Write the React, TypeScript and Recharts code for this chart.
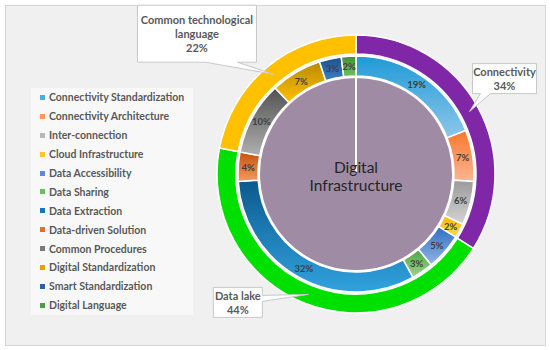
import { PieChart, Pie, Cell, Legend } from "recharts";

// Outer ring: the three groups
const groups = ["Connectivity", "Data lake", "Common technological language"];
const groupValues = [34, 44, 22];
const groupColors = ["#7f27a6", "#00e000", "#ffc000"];

// Inner ring: the twelve components
const items = [
  "Connectivity Standardization",
  "Connectivity Architecture",
  "Inter-connection",
  "Cloud Infrastructure",
  "Data Accessibility",
  "Data Sharing",
  "Data Extraction",
  "Data-driven Solution",
  "Common Procedures",
  "Digital Standardization",
  "Smart Standardization",
  "Digital Language",
];
const itemValues = [19, 7, 6, 2, 5, 3, 32, 4, 10, 7, 3, 2];
const itemTop = [
  "#1f9ad6", "#f7782f", "#9a9a9a", "#ffb900", "#2f6fc4", "#4ea645",
  "#0b5a8c", "#c4520f", "#525252", "#b88a00", "#1d4f8c", "#3f8f37",
];
const itemBottom = [
  "#8ec7ea", "#fbb592", "#d4d4d4", "#ffd75e", "#94b4e4", "#9fd28f",
  "#31a2de", "#f69a5c", "#b0b0b0", "#ffc000", "#3c80c6", "#72c064",
];
const swatch = [
  "#4aaee0", "#f89a60", "#b8b8b8", "#ffc72a", "#5b8bd2", "#6fbd63",
  "#1677b4", "#e0702e", "#7a7a7a", "#dea400", "#2a62a8", "#4e9c44",
];

const centerName = "Digital Infrastructure";

const groupData = groups.map((name, i) => ({ name, value: groupValues[i] }));
const itemData = items.map((name, i) => ({ name, value: itemValues[i] }));

// callout box placement relative to the tip on the outer ring
const callouts = [
  { dx: 3, dy: -48, w: 64, h: 30, edge: "bottom", b1: 8, b2: 18, breakAt: 0 },
  { dx: -95, dy: -7, w: 49, h: 30, edge: "right", b1: 8, b2: 14, breakAt: 0 },
  { dx: -136, dy: -69, w: 119, h: 57, edge: "bottom", b1: 68, b2: 100, breakAt: 2 },
];

const RAD = Math.PI / 180;
const FONT = "Lato, 'Open Sans', sans-serif";
const TXT = "#595959";

function outerLabel(p: any) {
  const { cx, cy, midAngle, innerRadius, outerRadius, index, name, value } = p;
  const r = (innerRadius + outerRadius) / 2;
  const tx = cx + r * Math.cos(-midAngle * RAD);
  const ty = cy + r * Math.sin(-midAngle * RAD);
  const c = callouts[index];
  const x = tx + c.dx;
  const y = ty + c.dy;
  let d: string;
  if (c.edge === "bottom") {
    d = `M${x},${y} H${x + c.w} V${y + c.h} H${x + c.b2} L${tx},${ty} L${x + c.b1},${y + c.h} H${x} Z`;
  } else {
    d = `M${x},${y} H${x + c.w} V${y + c.b1} L${tx},${ty} L${x + c.w},${y + c.b2} V${y + c.h} H${x} Z`;
  }
  const words = String(name).split(" ");
  const lines = c.breakAt
    ? [words.slice(0, c.breakAt).join(" "), words.slice(c.breakAt).join(" ")]
    : [String(name)];
  lines.push(`${value}%`);
  const lh = 14;
  const y0 = y + c.h / 2 - ((lines.length - 1) * lh) / 2;
  return (
    <g>
      <path d={d} fill="#ffffff" stroke="#c8c8c8" strokeWidth={1} />
      {lines.map((t, i) => (
        <text
          key={i}
          x={x + c.w / 2}
          y={y0 + i * lh}
          textAnchor="middle"
          dominantBaseline="central"
          fontFamily={FONT}
          fontWeight={700}
          fontSize={11}
          fill={TXT}
        >
          {t}
        </text>
      ))}
    </g>
  );
}

function innerLabel(p: any) {
  const { cx, cy, midAngle, innerRadius, outerRadius, value } = p;
  const r = (innerRadius + outerRadius) / 2;
  const x = cx + r * Math.cos(-midAngle * RAD);
  const y = cy + r * Math.sin(-midAngle * RAD);
  return (
    <text
      x={x}
      y={y}
      textAnchor="middle"
      dominantBaseline="central"
      fontFamily={FONT}
      fontWeight={700}
      fontSize={9.5}
      fill="#404040"
    >
      {`${value}%`}
    </text>
  );
}

function centerLabel(p: any) {
  const { cx, cy } = p;
  const [a, b] = centerName.split(" ");
  return (
    <text textAnchor="middle" fontFamily={FONT} fontSize={15.5} fill="#262626">
      <tspan x={cx} y={cy - 1}>{a}</tspan>
      <tspan x={cx} y={cy + 17}>{b}</tspan>
    </text>
  );
}

function renderLegend() {
  return (
    <div
      style={{
        width: 162,
        height: 227,
        background: "#f8f8f8",
        fontFamily: FONT,
        fontWeight: 700,
        fontSize: 10.5,
        color: TXT,
      }}
    >
      {items.map((name, i) => (
        <div
          key={name}
          style={{ height: 18.9, display: "flex", alignItems: "center", paddingLeft: 9, whiteSpace: "nowrap" }}
        >
          <span style={{ width: 5, height: 5, background: swatch[i], marginRight: 4, flex: "none" }} />
          {name}
        </div>
      ))}
    </div>
  );
}

export default function App() {
  return (
    <div style={{ position: "absolute", left: 0, top: 0, width: 550, height: 350, background: "#ffffff" }}>
      <div
        style={{
          position: "absolute",
          left: 5,
          top: 5,
          width: 539,
          height: 339,
          background: "#f0f0f0",
          border: "1px solid #d6d6d6",
        }}
      />
      <div style={{ position: "absolute", left: 0, top: 0 }}>
        <PieChart width={550} height={350} margin={{ top: 0, right: 0, bottom: 0, left: 0 }}>
          <defs>
            {items.map((_, i) => (
              <linearGradient key={i} id={`g${i}`} x1="0" y1="0" x2="0" y2="1">
                <stop offset="0%" stopColor={itemTop[i]} />
                <stop offset="100%" stopColor={itemBottom[i]} />
              </linearGradient>
            ))}
          </defs>
          <Pie
            data={[{ name: centerName, value: 100 }]}
            dataKey="value"
            cx={356}
            cy={174}
            outerRadius={97}
            startAngle={90}
            endAngle={-270}
            fill="#a08ba5"
            stroke="#ffffff"
            strokeWidth={2}
            label={centerLabel}
            labelLine={false}
            isAnimationActive={false}
          />
          <Pie
            data={itemData}
            dataKey="value"
            cx={356}
            cy={174}
            innerRadius={98}
            outerRadius={118}
            startAngle={90}
            endAngle={-270}
            stroke="#ffffff"
            strokeWidth={1.5}
            label={innerLabel}
            labelLine={false}
            isAnimationActive={false}
          >
            {itemData.map((_, i) => (
              <Cell key={i} fill={`url(#g${i})`} />
            ))}
          </Pie>
          <Pie
            data={groupData}
            dataKey="value"
            cx={356}
            cy={174}
            innerRadius={120}
            outerRadius={139}
            startAngle={90}
            endAngle={-270}
            stroke="#ffffff"
            strokeWidth={1.5}
            label={outerLabel}
            labelLine={false}
            isAnimationActive={false}
          >
            {groupData.map((_, i) => (
              <Cell key={i} fill={groupColors[i]} />
            ))}
          </Pie>
          <Legend
            content={renderLegend}
            wrapperStyle={{ position: "absolute", left: 31, top: 88, width: 162, height: 227 }}
          />
        </PieChart>
      </div>
    </div>
  );
}
